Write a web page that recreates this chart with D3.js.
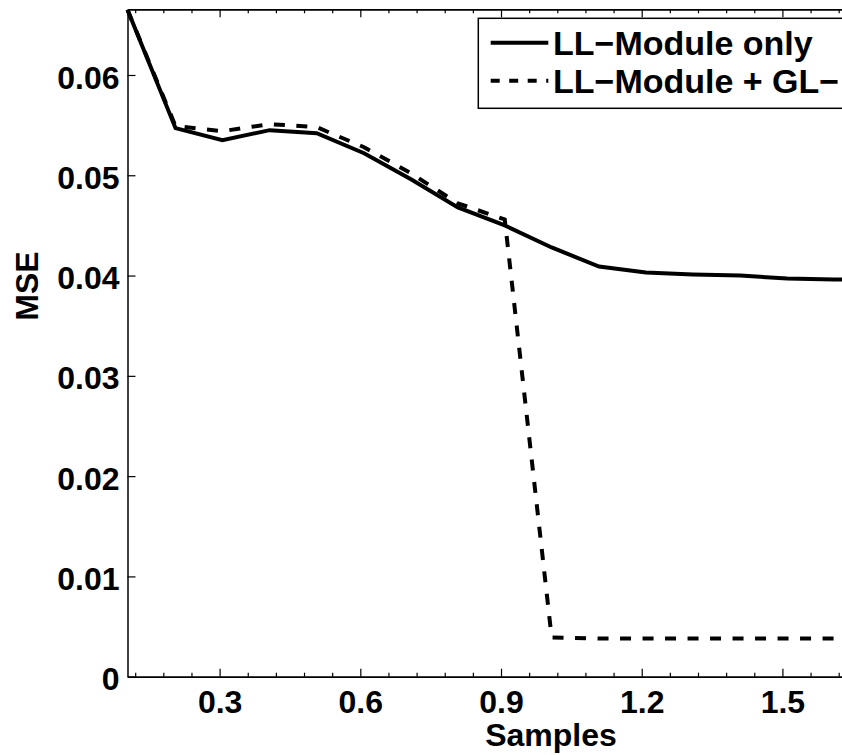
<!DOCTYPE html>
<html>
<head>
<meta charset="utf-8">
<script src="https://cdn.jsdelivr.net/npm/d3@7"></script>
<style>
  body { margin: 0; background: #fff; }
  svg { display: block; font-family: "Liberation Sans", Arial, sans-serif; font-weight: bold; }
</style>
</head>
<body>
<svg id="chart" width="842" height="755"></svg>
<script>
// sample positions and MSE values
const samples = [0.1036, 0.206, 0.306, 0.407, 0.507, 0.608, 0.708, 0.808, 0.908, 1.008, 1.109, 1.209, 1.309, 1.41, 1.51, 1.61, 1.71];
const llOnly = [0.0665, 0.0547, 0.0535, 0.0545, 0.0542, 0.0522, 0.0496, 0.0468, 0.0450, 0.0428, 0.0409, 0.0403, 0.0401, 0.0400, 0.0397, 0.0396, 0.0396];
const llGl = [0.0665, 0.0549, 0.0544, 0.0551, 0.0548, 0.0528, 0.0502, 0.0472, 0.0456, 0.0039, 0.0038, 0.0038, 0.0038, 0.0038, 0.0038, 0.0038, 0.0038];
const xMajor = [0.3, 0.6, 0.9, 1.2, 1.5];
const xMinor = [0.12, 0.18, 0.24, 0.36, 0.42, 0.48, 0.54, 0.66, 0.72, 0.78, 0.84, 0.96, 1.02, 1.08, 1.14, 1.26, 1.32, 1.38, 1.44, 1.56, 1.62, 1.68, 1.74];
const yTicks = [0, 0.01, 0.02, 0.03, 0.04, 0.05, 0.06];
// second entry is cut at the figure edge in the source
const legendLabels = ["LL\u2212Module only", "LL\u2212Module + GL\u2212"];

const svg = d3.select("#chart");
const plotLeft = 127.5, plotTop = 9.3, plotBottom = 676.7;

const x = d3.scaleLinear().domain([0.1036, 1.9]).range([plotLeft, plotLeft + (1.9 - 0.1036) * 469]);
const y = d3.scaleLinear().domain([0, 0.06655]).range([plotBottom, plotTop]);
const fmt = d => d === 0 ? "0" : d3.format(".2f")(d);

// bottom axis, inward ticks
svg.append("g").attr("transform", `translate(0,${plotBottom})`)
  .call(d3.axisBottom(x).tickValues(xMajor).tickSize(-8).tickSizeOuter(0).tickPadding(14).tickFormat(d3.format(".1f")));
svg.append("g").attr("transform", `translate(0,${plotBottom})`)
  .call(d3.axisBottom(x).tickValues(xMinor).tickSize(-4).tickSizeOuter(0).tickFormat(""));
// top axis, ticks pointing down
svg.append("g").attr("transform", `translate(0,${plotTop})`)
  .call(d3.axisTop(x).tickValues(xMajor).tickSize(-8).tickSizeOuter(0).tickFormat(""));
svg.append("g").attr("transform", `translate(0,${plotTop})`)
  .call(d3.axisTop(x).tickValues(xMinor).tickSize(-4).tickSizeOuter(0).tickFormat(""));
// left axis
const yl = svg.append("g").attr("transform", `translate(${plotLeft},0)`)
  .call(d3.axisLeft(y).tickValues(yTicks).tickSize(-8).tickSizeOuter(0).tickPadding(8).tickFormat(fmt));

svg.selectAll(".domain").attr("stroke", "#000").attr("stroke-width", 1.5);
svg.selectAll(".tick line").attr("stroke", "#000").attr("stroke-width", 1.2);
svg.selectAll(".tick text").attr("font-size", 32).attr("font-weight", "bold")
  .attr("font-family", "Liberation Sans, Arial, sans-serif").attr("fill", "#000");
yl.selectAll(".tick text").attr("dy", "0.41em");

// lines
const line = d3.line().x(d => x(d[0])).y(d => y(d[1]));
svg.append("path").datum(samples.map((s, i) => [s, llOnly[i]]))
  .attr("d", line).attr("fill", "none").attr("stroke", "#000").attr("stroke-width", 4);
svg.append("path").datum(samples.map((s, i) => [s, llGl[i]]))
  .attr("d", line).attr("fill", "none").attr("stroke", "#000").attr("stroke-width", 4)
  .attr("stroke-dasharray", "11,11.5");

// legend
const lg = svg.append("g");
lg.append("rect").attr("x", 478.3).attr("y", 18.3).attr("width", 600).attr("height", 90)
  .attr("fill", "#fff").attr("stroke", "#000").attr("stroke-width", 1.5);
legendLabels.forEach((t, i) => {
  const ly = 42.7 + i * 38;
  lg.append("line").attr("x1", 490.7).attr("x2", 548.3).attr("y1", ly).attr("y2", ly)
    .attr("stroke", "#000").attr("stroke-width", 4)
    .attr("stroke-dasharray", i === 1 ? "9,9.5" : null);
  lg.append("text").attr("x", 553).attr("y", ly + 12.5).attr("font-size", 34).text(t);
});

// axis titles
svg.append("text").attr("x", 551).attr("y", 746).attr("text-anchor", "middle")
  .attr("font-size", 32).text("Samples");
svg.append("text").attr("transform", "translate(38,286) rotate(-90)").attr("text-anchor", "middle")
  .attr("font-size", 32).text("MSE");
</script>
</body>
</html>
